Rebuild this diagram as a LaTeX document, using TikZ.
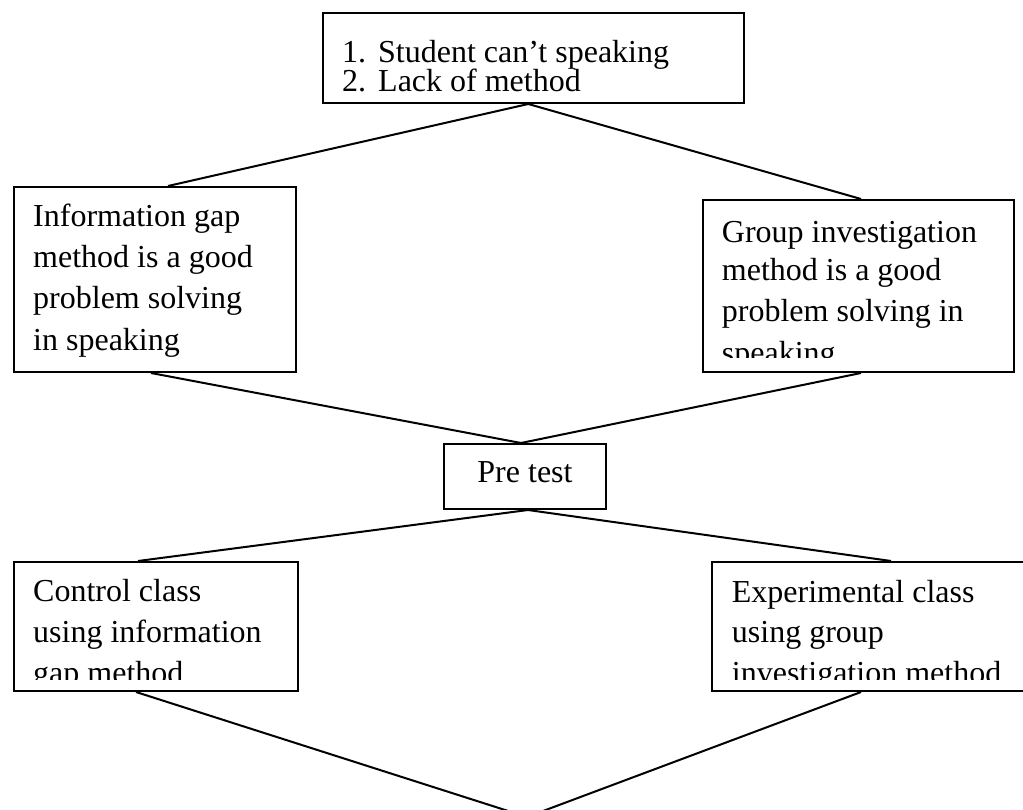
\documentclass[tikz,border=0pt]{standalone}
\usepackage{fontspec}
\setmainfont{Liberation Serif}
\begin{document}
\begin{tikzpicture}[x=1pt,y=-1pt,
  box/.style={draw, line width=2pt, inner sep=0pt, anchor=north west},
  conn/.style={line width=2pt},
  txt/.style={inner sep=0pt, anchor=base west, font=\fontsize{32}{40}\selectfont}]
\useasboundingbox (0,0) rectangle (1023,810);

% boxes
\node[box, minimum width=421.5pt, minimum height=90pt] (prob) at (321.5,12) {};
\node[box, minimum width=282pt, minimum height=185pt] (gapm) at (13,186) {};
\node[box, minimum width=311pt, minimum height=172pt] (grpm) at (701.5,199) {};
\node[box, minimum width=162pt, minimum height=65pt, text height=22pt, text depth=9.4pt,
      font=\fontsize{32}{40}\selectfont] (pre) at (443,443) {Pre test};
\node[box, minimum width=284pt, minimum height=129pt] (ctl) at (13,561) {};
\node[box, minimum width=330pt, minimum height=129pt] (exp) at (711,561) {};

% texts
\node[txt] (n1) at (342,63) {1.};
\node[txt] (p1) at (378,63) {Student can’t speaking};
\node[txt] (n2) at (342,92) {2.};
\node[txt] (p2) at (378,92) {Lack of method};

\node[txt] (g1) at (33,227) {Information gap};
\node[txt] (g2) at (33,268) {method is a good};
\node[txt] (g3) at (33,309) {problem solving};
\node[txt] (g4) at (33,351) {in speaking};

\begin{scope}
\clip (701.5,199) rectangle (1012.5,358);
\node[txt] (r1) at (721.7,243) {Group investigation};
\node[txt] (r2) at (721.7,281) {method is a good};
\node[txt] (r3) at (721.7,322) {problem solving in};
\node[txt] (r4) at (721.7,363) {speaking};
\end{scope}

\begin{scope}
\clip (13,561) rectangle (297,679);
\node[txt] (c1) at (33,601) {Control class};
\node[txt] (c2) at (33,642) {using information};
\node[txt] (c3) at (33,683) {gap method};
\end{scope}

\begin{scope}
\clip (711,561) rectangle (1023,679);
\node[txt] (e1) at (731.7,602) {Experimental class};
\node[txt] (e2) at (731.7,642) {using group};
\node[txt] (e3) at (731.7,683) {investigation method};
\end{scope}

% connectors
\coordinate (end) at (527,817);
\draw[conn] ([xshift=-5pt]prob.south) -- ([xshift=13pt]gapm.north);
\draw[conn] ([xshift=-5pt]prob.south) -- ([xshift=3pt]grpm.north);
\draw[conn] ([xshift=-4pt]gapm.south) -- ([xshift=-4pt]pre.north);
\draw[conn] ([xshift=3pt]grpm.south) -- ([xshift=-4pt]pre.north);
\draw[conn] ([xshift=3pt]pre.south) -- ([xshift=-18pt]ctl.north);
\draw[conn] ([xshift=3pt]pre.south) -- ([xshift=14pt]exp.north);
\draw[conn] ([xshift=-20pt]ctl.south) -- (end);
\draw[conn] ([xshift=-16pt]exp.south) -- (end);
\end{tikzpicture}
\end{document}
